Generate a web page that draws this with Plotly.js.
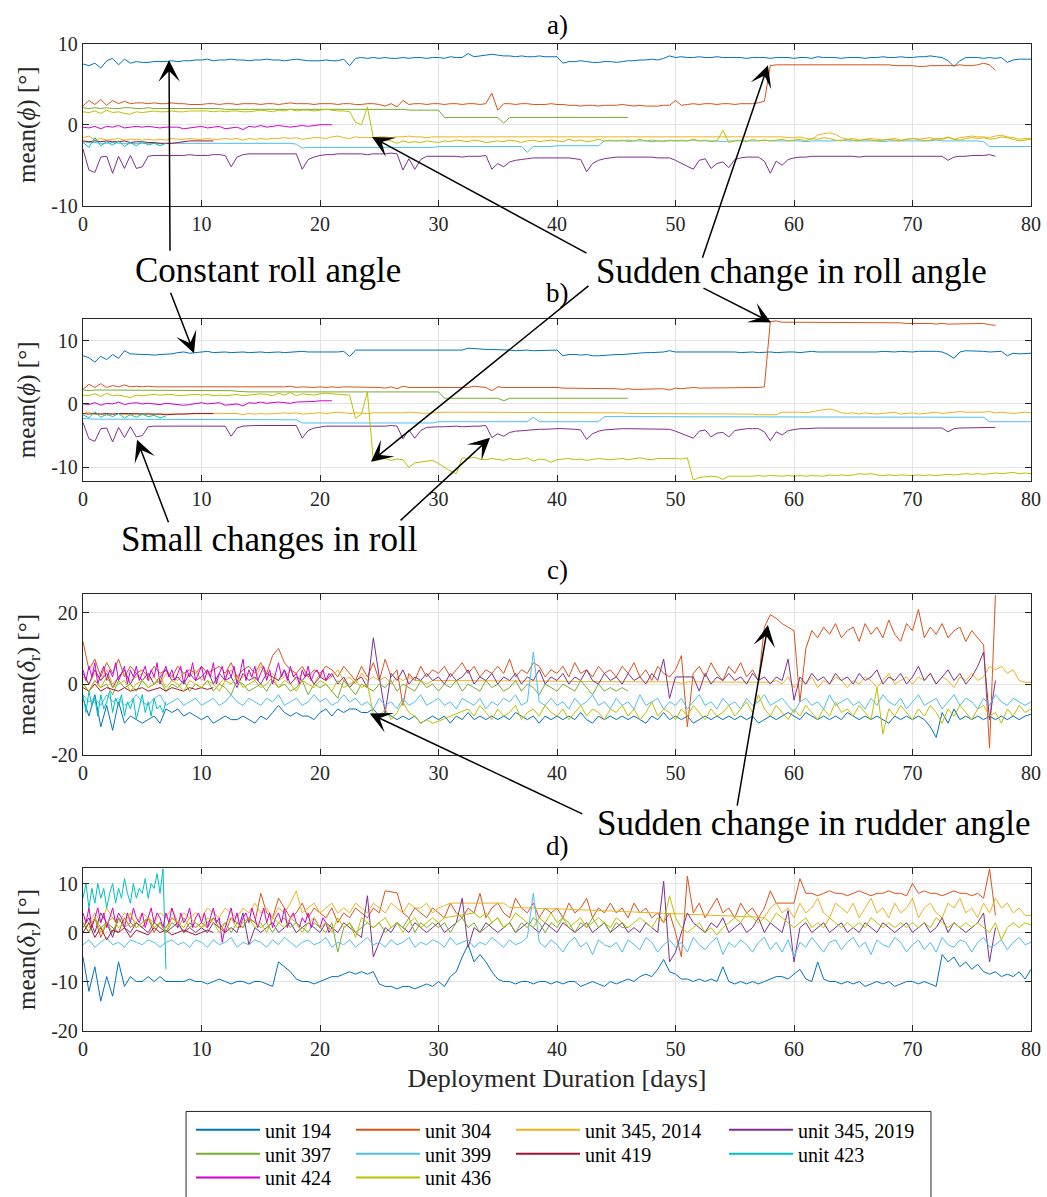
<!DOCTYPE html>
<html><head><meta charset="utf-8">
<script src="https://cdn.plot.ly/plotly-3.0.1.min.js"></script>
<style>html,body{margin:0;padding:0;background:#fff}#chart{width:1047px;height:1197px}</style>
</head><body><div id="chart"></div>
<script>
// ---- units, colours ----
const units = ['unit 194','unit 304','unit 345, 2014','unit 345, 2019','unit 397','unit 399','unit 419','unit 423','unit 424','unit 436'];
const colors = ['#0072BD','#D95319','#EDB120','#7E2F8E','#77AC30','#4DBEEE','#A2142F','#00BFBF','#D000D0','#BFBF00'];
const xTicks = [0,10,20,30,40,50,60,70,80];

// ---- panel a) mean(phi), samples every 0.5 day from day 0 ----
const a194 = [7.5,7.3,7.6,7.0,7.9,8.2,7.4,8.1,7.6,7.8, 7.7,7.7,7.8,7.8,7.8,7.9,7.8,7.9,7.9,8.0, 8.0,8.1,7.9,8.0,8.0,8.1,8.0,8.0,7.9,8.0, 8.0,8.1,8.0,8.0,7.9,8.0,8.1,8.0,7.9,7.9,
 7.9,8.0,7.9,7.9,8.1,7.3,8.2,8.3,8.2,8.3, 8.2,8.3,8.2,8.2,8.3,8.2,8.3,8.3,8.2,8.3, 8.3,8.2,8.4,8.3,8.3,8.8,8.4,8.5,8.6,8.7, 8.6,8.5,8.5,8.4,8.5,8.4,8.4,8.5,8.4,8.4,
 8.4,7.6,7.8,7.8,7.9,7.8,7.7,7.7,7.8,7.8, 7.7,7.8,7.9,7.9,8.0,8.0,8.1,8.0,8.2,8.5, 8.3,8.4,8.3,8.3,8.4,8.3,8.3,8.4,8.3,8.3, 8.3,8.3,8.2,8.3,8.3,8.3,8.2,8.3,8.3,8.3,
 8.2,8.3,8.3,8.2,8.4,8.3,8.3,8.3,8.2,8.3, 8.3,8.3,8.2,8.3,8.3,8.4,8.3,8.3,8.4,8.3, 8.3,8.4,8.4,8.5,8.4,8.3,7.9,7.2,7.9,8.3, 8.3,8.3,8.2,8.3,8.2,8.3,7.7,8.0,8.1,8.1, 8.1];
const a304 = [2.3,3.0,2.5,3.1,2.4,3.0,2.6,2.9,2.6,2.7, 2.7,2.6,2.7,2.6,2.6,2.7,2.6,2.6,2.5,2.5, 2.5,2.6,2.6,2.5,2.6,2.6,2.5,2.6,2.6,2.6, 2.5,2.6,2.6,2.5,2.6,2.7,2.6,2.6,2.6,2.5,
 2.6,2.6,2.6,2.5,2.6,2.6,2.5,2.5,2.6,2.6, 2.5,2.3,2.6,2.2,3.0,2.5,2.6,2.6,2.5,2.6, 2.6,2.5,2.6,2.6,2.5,2.6,2.6,2.5,2.6,3.9, 1.8,2.6,2.6,2.5,2.6,2.6,2.5,2.5,2.5,2.6,
 2.5,2.5,2.4,2.4,2.3,2.4,2.4,2.3,2.4,2.4, 2.4,2.5,2.4,2.3,2.4,2.3,2.3,2.3,2.4,2.4, 3.0,2.4,2.5,2.6,2.5,2.6,2.6,2.5,2.6,2.6, 2.5,2.6,2.6,2.6,2.7,2.9,7.3,7.4,7.4,7.4,
 7.4,7.4,7.4,7.4,7.4,7.4,7.4,7.4,7.4,7.4, 7.4,7.4,7.4,7.4,7.4,7.4,7.4,7.3,7.3,7.3, 7.3,7.2,7.2,7.3,7.3,7.3,7.3,7.3,7.4,7.3, 7.3,7.4,7.6,7.4,6.7];
const a345a = [-1.6,-1.4,-1.9,-1.7,-1.9,-1.8,-1.7,-1.9,-1.8,-1.8, -1.9,-1.8,-1.9,-1.8,-1.9,-1.7,-1.8,-1.8,-1.7,-1.8, -1.8,-1.7,-1.8,-1.8,-1.7,-1.8,-1.7,-1.9,-1.7,-1.8, -1.7,-1.8,-1.7,-1.7,-1.6,-1.7,-1.6,-1.8,-1.7,-1.6,
 -1.6,-1.7,-1.5,-1.4,-1.6,-1.7,-1.5,-1.6,-1.6,-1.6, -1.5,-1.5,-1.6,-1.5,-1.5,-1.4,-1.5,-1.5,-1.6,-1.5, -1.5,-1.5,-1.5,-1.5,-1.5,-1.5,-1.5,-1.5,-1.5,-1.5, -1.5,-1.5,-1.5,-1.5,-1.5,-1.5,-1.5,-1.5,-1.5,-1.5,
 -1.5,-1.5,-1.5,-1.5,-1.5,-1.5,-1.5,-1.5,-1.5,-1.5, -1.5,-1.5,-1.5,-1.5,-1.5,-1.5,-1.5,-1.5,-1.5,-1.5, -1.5,-1.5,-1.5,-1.5,-1.5,-1.5,-1.5,-1.5,-1.5,-1.5, -1.5,-1.5,-1.5,-1.5,-1.5,-1.5,-1.5,-1.5,-1.5,-1.6,
 -1.6,-1.5,-1.7,-1.8,-1.3,-1.1,-1.0,-1.2,-1.6,-1.8, -1.7,-1.9,-1.8,-1.7,-1.8,-1.9,-1.8,-1.7,-1.9,-1.8, -1.7,-1.8,-1.7,-1.6,-1.8,-1.7,-1.5,-1.8,-1.6,-1.5, -1.4,-1.5,-1.5,-1.6,-1.4,-1.3,-1.5,-1.6,-1.8,-1.7, -1.7];
const a345b = [-3.0,-5.6,-5.9,-4.0,-3.9,-6.0,-3.9,-5.4,-3.8,-5.4, -5.2,-3.9,-3.8,-3.8,-3.8,-3.8,-3.8,-3.8,-3.7,-3.8, -3.8,-3.8,-3.7,-3.7,-3.8,-5.2,-4.0,-3.7,-3.6,-3.6, -3.6,-3.6,-3.6,-3.6,-3.6,-3.6,-3.6,-5.5,-4.3,-4.0,
 -3.8,-3.7,-3.7,-3.6,-3.6,-3.6,-3.6,-3.6,-3.7,-3.6, -3.6,-3.6,-3.5,-3.6,-5.6,-4.2,-5.5,-4.3,-3.9,-3.9, -3.9,-3.9,-3.9,-3.9,-4.0,-3.9,-3.9,-3.9,-3.8,-5.5, -4.8,-5.2,-4.6,-4.4,-4.3,-4.2,-4.1,-4.1,-4.1,-4.1,
 -4.1,-4.1,-4.1,-4.2,-4.3,-5.8,-4.8,-4.4,-4.2,-4.1, -4.0,-4.0,-4.0,-4.0,-4.0,-4.0,-4.0,-4.1,-4.1,-4.1, -4.4,-4.8,-5.1,-5.5,-4.4,-4.2,-5.4,-4.8,-4.6,-5.3, -4.3,-4.1,-4.0,-4.0,-4.0,-4.5,-6.0,-4.5,-5.0,-4.3,
 -4.1,-4.0,-4.0,-3.9,-3.9,-3.9,-3.9,-3.9,-3.9,-3.9, -3.9,-4.0,-3.9,-3.9,-3.9,-3.9,-3.9,-3.9,-3.9,-3.9, -3.9,-3.9,-3.9,-3.9,-3.9,-3.9,-4.4,-4.0,-3.9,-3.9, -3.8,-3.8,-3.8,-3.7,-3.9];
const a397 = [2.1,2.0,2.1,2.0,2.1,2.0,2.0,2.1,2.1,2.0, 2.0,2.1,2.0,2.0,2.0,2.0,2.0,2.0,2.0,2.0, 2.0,2.0,2.0,2.0,1.9,1.9,1.9,1.9,1.9,1.9, 1.9,1.9,1.9,1.9,1.9,1.9,1.9,1.9,1.9,1.9,
 1.9,1.9,1.9,1.9,1.9,1.9,1.9,1.9,1.9,1.9, 1.9,1.9,1.9,1.9,1.9,1.8,1.8,1.8,1.8,1.8, 1.8,0.9,0.9,0.9,0.9,0.9,0.9,0.9,0.9,0.9, 0.9,0.2,0.9,0.9,0.9,0.9,0.9,0.9,0.9,0.9,
 0.9,0.9,0.9,0.9,0.9,0.9,0.9,0.9,0.9,0.9, 0.9,0.9,0.9];
const a399 = [-2.1,-2.2,-2.2,-2.3,-2.3,-2.2,-2.3,-2.3,-2.3,-2.3, -2.3,-2.3,-2.3,-2.3,-2.3,-2.3,-2.3,-2.3,-2.3,-2.3, -2.3,-2.3,-2.3,-2.3,-2.3,-2.3,-2.3,-2.3,-2.3,-2.3, -2.3,-2.3,-2.3,-2.3,-2.3,-2.3,-2.4,-2.9,-2.8,-2.8,
 -2.8,-2.8,-2.8,-2.8,-2.8,-2.8,-2.8,-2.8,-2.8,-2.8, -2.8,-2.8,-2.8,-2.8,-2.8,-2.8,-2.8,-2.8,-2.8,-2.8, -2.7,-2.7,-2.7,-2.7,-2.7,-2.7,-2.7,-2.7,-2.7,-2.7, -2.7,-2.7,-2.7,-2.7,-2.7,-3.4,-2.7,-2.7,-2.7,-2.7,
 -2.6,-2.6,-2.6,-2.6,-2.6,-2.6,-2.6,-2.6,-2.0,-2.0, -2.0,-2.0,-1.9,-2.0,-2.0,-2.0,-2.1,-2.0,-2.0,-2.0, -2.0,-2.0,-2.0,-1.9,-2.0,-2.0,-2.0,-2.0,-2.1,-2.0, -2.0,-2.0,-2.0,-2.0,-2.0,-1.9,-2.0,-2.0,-2.0,-2.0,
 -2.0,-2.0,-2.1,-2.0,-2.0,-2.0,-2.0,-2.0,-1.9,-2.0, -2.0,-2.0,-2.0,-2.0,-2.0,-2.1,-2.0,-2.0,-2.0,-2.0, -2.0,-2.0,-2.0,-2.0,-1.9,-2.0,-2.0,-2.0,-2.0,-2.0, -2.0,-2.0,-2.1,-2.7,-2.7,-2.7,-2.7,-2.7,-2.7,-2.7, -2.7];
const a419 = [-2.0,-2.1,-2.0,-2.1,-2.0,-2.1,-2.1,-2.0,-2.2,-2.1, -2.1,-2.2,-2.2,-2.3,-2.3,-2.3,-2.2,-2.1,-2.0,-2.0, -2.0,-2.0,-2.0];
const a423 = [-2.2,-2.8,-1.6,-2.6,-2.1,-2.5,-2.0,-2.7,-2.2,-2.6, -2.1,-2.5,-2.3,-2.6,-2.3];
const a424 = [-0.3,-0.4,-0.2,-0.5,-0.2,-0.3,-0.1,-0.4,-0.3,-0.2, -0.3,-0.2,-0.3,-0.4,-0.3,-0.3,-0.3,-0.5,-0.4,-0.3, -0.2,-0.4,-0.3,-0.2,-0.5,-0.4,-0.3,-0.6,-0.2,-0.3, -0.1,-0.3,-0.2,-0.1,-0.2,-0.3,-0.2,-0.1,-0.2,-0.1, 0.0,0.0,0.0];
const a436 = [1.6,1.5,1.7,1.4,1.8,1.5,1.6,1.4,1.3,1.6, 1.5,1.6,1.7,1.6,1.6,1.7,1.6,1.6,1.7,1.7, 1.7,1.7,1.6,1.7,1.6,1.7,1.7,1.6,1.6,1.7, 1.8,1.7,1.6,1.8,1.7,1.9,1.7,1.8,1.8,1.7,
 1.8,1.9,1.8,1.7,1.7,1.6,0.3,0.0,2.2,-1.6, -1.8,-1.9,-2.0,-2.3,-2.0,-2.2,-2.1,-2.2,-2.0,-2.1, -2.2,-2.0,-2.1,-1.9,-2.0,-2.1,-1.9,-2.0,-2.2,-2.1, -2.0,-2.1,-1.9,-2.0,-2.2,-2.0,-1.9,-2.1,-2.0,-1.9,
 -2.0,-2.1,-1.8,-2.0,-1.9,-2.1,-2.0,-1.8,-2.0,-1.9, -2.0,-1.9,-2.1,-2.0,-1.8,-2.0,-1.9,-2.0,-2.1,-1.9, -2.0,-1.9,-2.0,-1.8,-2.0,-1.9,-2.1,-2.0,-0.7,-2.2, -2.0,-1.9,-2.1,-1.8,-2.0,-1.9,-2.0,-1.9,-1.8,-2.0,
 -1.9,-1.8,-2.0,-1.7,-1.8,-1.6,-1.7,-1.9,-2.0,-1.8, -1.9,-2.0,-1.8,-1.9,-2.0,-1.9,-1.8,-1.9,-2.0,-1.8, -1.7,-1.8,-2.0,-1.9,-1.7,-1.8,-1.6,-1.8,-1.9,-1.7, -1.6,-1.7,-1.6,-1.8,-1.7,-1.5,-1.6,-1.8,-2.0,-1.9, -1.8];

// ---- panel b) mean(phi), samples every 0.5 day ----
const b194 = [7.6,7.3,6.6,7.5,7.0,7.8,7.2,8.4,7.9,7.8, 7.8,7.8,7.7,7.8,7.8,7.9,8.1,8.2,8.0,8.1, 8.1,8.3,8.1,8.2,8.2,8.1,8.2,8.2,8.1,8.2, 8.2,8.1,8.2,8.2,8.1,8.2,8.2,8.3,8.2,8.2,
 8.2,8.2,8.1,8.2,8.3,7.5,8.5,8.5,8.4,8.5, 8.4,8.5,8.4,8.5,8.4,8.5,8.4,8.5,8.5,8.4, 8.5,8.4,8.5,8.5,8.5,8.8,8.7,8.7,8.6,8.6, 8.6,8.5,8.5,8.4,8.5,8.5,8.4,8.4,8.5,8.5,
 8.5,7.6,7.8,7.8,7.7,7.8,7.6,7.6,7.7,7.8, 7.8,7.8,7.9,8.0,8.0,8.1,8.1,8.1,8.2,8.4, 8.2,8.2,8.2,8.3,8.2,8.2,8.2,8.3,8.2,8.2, 8.2,8.1,8.2,8.2,8.1,8.2,8.2,8.1,8.2,8.2,
 8.2,8.1,8.2,8.3,8.2,8.2,8.1,8.2,8.2,8.2, 8.2,8.2,8.1,8.2,8.2,8.3,8.2,8.2,8.3,8.2, 8.2,8.3,8.3,8.4,8.3,8.2,7.8,7.2,8.2,8.4, 8.4,8.3,8.3,8.2,8.3,8.3,7.6,8.0,7.9,8.0, 8.0];
const b304 = [2.3,3.1,2.6,3.2,2.6,2.9,2.7,3.0,2.7,2.8, 2.7,2.8,2.7,2.7,2.6,2.7,2.6,2.7,2.6,2.6, 2.7,2.6,2.7,2.6,2.7,2.7,2.6,2.7,2.6,2.7, 2.6,2.7,2.6,2.6,2.7,2.8,2.6,2.7,2.6,2.6,
 2.7,2.6,2.7,2.6,2.7,2.7,2.6,2.6,2.7,2.6, 2.6,2.5,2.7,2.4,2.8,2.6,2.6,2.7,2.6,2.6, 2.7,2.6,2.6,2.7,2.7,2.6,2.8,2.7,2.6,2.1, 2.7,2.6,2.6,2.7,2.6,2.6,2.7,2.6,2.6,2.6,
 2.6,2.5,2.5,2.4,2.4,2.5,2.4,2.4,2.5,2.4, 2.4,2.3,2.4,2.3,2.3,2.4,2.3,2.3,2.4,2.2, 2.5,2.4,2.5,2.6,2.5,2.5,2.6,2.6,2.5,2.6, 2.6,2.5,2.6,2.6,2.6,2.7,13.0,13.1,12.9,12.9,
 12.9,12.9,12.9,12.9,12.9,12.9,12.9,12.9,12.8,12.9, 12.9,12.8,12.8,12.9,12.8,12.8,12.8,12.8,12.8,12.7, 12.7,12.8,12.7,12.7,12.6,12.7,12.6,12.6,12.6,12.6, 12.6,12.7,12.7,12.5,12.4];
const b345a = [-1.5,-1.3,-1.7,-1.6,-1.8,-1.6,-1.6,-1.7,-1.7,-1.6, -1.7,-1.6,-1.7,-1.6,-1.6,-1.5,-1.6,-1.6,-1.5,-1.6, -1.6,-1.5,-1.6,-1.6,-1.5,-1.6,-1.5,-1.7,-1.5,-1.6, -1.5,-1.6,-1.5,-1.5,-1.4,-1.5,-1.4,-1.6,-1.5,-1.4,
 -1.4,-1.5,-1.4,-1.3,-1.4,-1.5,-1.4,-1.5,-1.5,-1.4, -1.4,-1.4,-1.5,-1.4,-1.4,-1.3,-1.4,-1.4,-1.5,-1.4, -1.3,-1.3,-1.3,-1.3,-1.3,-1.3,-1.3,-1.3,-1.3,-1.3, -1.3,-1.3,-1.3,-1.3,-1.3,-1.3,-1.3,-1.3,-1.3,-1.3,
 -1.3,-1.3,-1.4,-1.4,-1.4,-1.4,-1.4,-1.4,-1.4,-1.4, -1.4,-1.4,-1.5,-1.5,-1.5,-1.5,-1.5,-1.5,-1.5,-1.5, -1.5,-1.5,-1.5,-1.5,-1.6,-1.6,-1.6,-1.6,-1.6,-1.6, -1.6,-1.6,-1.6,-1.6,-1.7,-1.7,-1.7,-1.7,-1.3,-1.3,
 -1.2,-1.3,-1.4,-1.2,-1.1,-0.9,-0.8,-1.0,-1.4,-1.5, -1.4,-1.6,-1.4,-1.5,-1.6,-1.5,-1.4,-1.3,-1.6,-1.5, -1.4,-1.6,-1.5,-1.4,-1.3,-1.5,-1.4,-1.3,-1.2,-1.3, -1.3,-1.4,-1.3,-1.2,-1.4,-1.3,-1.4,-1.5,-1.4,-1.3, -1.4];
const b345b = [-2.9,-5.5,-5.9,-3.9,-3.8,-6.0,-3.7,-5.3,-3.6,-5.2, -5.0,-3.6,-3.5,-3.5,-3.5,-3.5,-3.5,-3.5,-3.4,-3.5, -3.5,-3.5,-3.4,-3.4,-3.5,-5.1,-3.8,-3.5,-3.4,-3.4, -3.4,-3.4,-3.4,-3.4,-3.4,-3.4,-3.4,-5.4,-4.2,-3.8,
 -3.6,-3.5,-3.5,-3.5,-3.5,-3.5,-3.5,-3.5,-3.6,-3.5, -3.5,-3.5,-3.4,-3.5,-5.5,-4.1,-5.4,-4.2,-3.7,-3.6, -3.6,-3.6,-3.5,-3.5,-3.6,-3.5,-3.5,-3.5,-3.4,-5.3, -4.7,-5.1,-4.5,-4.3,-4.2,-4.1,-4.0,-4.0,-4.0,-3.9,
 -3.9,-3.9,-3.9,-4.0,-4.1,-5.6,-4.7,-4.3,-4.1,-4.0, -3.9,-3.9,-3.9,-3.9,-3.9,-3.9,-3.9,-3.9,-4.0,-4.0, -4.3,-4.7,-5.0,-5.4,-4.3,-4.1,-5.2,-4.6,-4.5,-5.2, -4.2,-4.0,-3.9,-3.9,-3.9,-4.4,-5.8,-4.4,-4.9,-4.2,
 -4.0,-3.9,-3.9,-3.8,-3.8,-3.8,-3.8,-3.8,-3.8,-3.8, -3.8,-3.8,-3.9,-3.8,-3.8,-3.8,-3.8,-3.8,-3.8,-3.8, -3.8,-3.8,-3.8,-3.8,-3.8,-3.8,-4.4,-3.9,-3.8,-3.8, -3.8,-3.7,-3.7,-3.7,-3.7];
const b397 = [2.2,2.1,2.2,2.2,2.2,2.1,2.2,2.2,2.2,2.2, 2.2,2.2,2.2,2.2,2.2,2.2,2.2,2.2,2.2,2.2, 2.2,2.2,2.2,2.2,2.2,2.1,2.0,1.9,1.9,1.9, 1.9,1.9,1.9,1.9,1.9,1.9,1.9,1.9,1.9,1.9,
 1.9,1.9,1.9,1.9,1.9,1.9,1.9,1.9,1.9,1.9, 1.9,1.9,1.9,1.9,1.9,1.9,1.9,1.9,1.9,1.9, 1.9,0.9,0.9,0.9,0.9,0.9,0.9,0.9,0.9,0.9, 0.9,0.5,0.9,0.9,0.9,0.9,0.9,0.9,0.9,0.9,
 0.9,0.9,0.9,0.9,0.9,0.9,0.9,0.9,0.9,0.9, 0.9,0.9,0.9];
const b399 = [-2.3,-2.4,-2.4,-2.4,-2.4,-2.4,-2.4,-2.4,-2.4,-2.4, -2.4,-2.4,-2.4,-2.4,-2.4,-2.4,-2.4,-2.4,-2.4,-2.4, -2.4,-2.4,-2.4,-2.4,-2.4,-2.4,-2.4,-2.4,-2.4,-2.4, -2.4,-2.4,-2.4,-2.4,-2.4,-2.4,-2.5,-3.0,-3.0,-3.0,
 -3.0,-3.0,-3.0,-3.0,-3.0,-3.0,-3.0,-3.0,-3.0,-3.0, -3.0,-3.0,-3.0,-3.0,-3.0,-3.0,-3.0,-3.0,-3.0,-3.0, -2.8,-2.8,-2.8,-2.8,-2.8,-2.8,-2.8,-2.8,-2.8,-2.8, -2.8,-2.8,-2.8,-2.8,-2.8,-2.8,-2.1,-2.8,-2.8,-2.8,
 -2.8,-2.8,-2.8,-2.8,-2.8,-2.8,-2.8,-2.8,-2.0,-2.0, -2.0,-2.0,-2.0,-2.0,-2.0,-2.0,-2.0,-2.0,-2.0,-2.0, -2.0,-2.0,-2.0,-2.0,-2.0,-2.0,-2.0,-2.0,-2.0,-2.0, -2.0,-2.0,-2.0,-2.0,-2.0,-2.0,-2.0,-2.0,-2.0,-2.0,
 -2.0,-2.0,-2.0,-2.0,-2.0,-2.0,-2.0,-2.0,-2.0,-2.0, -2.0,-2.0,-2.0,-2.0,-2.0,-2.0,-2.0,-2.0,-2.0,-2.0, -2.0,-2.0,-2.0,-2.0,-2.0,-2.0,-2.0,-2.0,-2.0,-2.0, -2.0,-2.0,-2.1,-2.8,-2.8,-2.8,-2.8,-2.8,-2.8,-2.8, -2.8];
const b419 = [-1.5,-1.6,-1.5,-1.6,-1.5,-1.6,-1.5,-1.5,-1.6,-1.5, -1.5,-1.6,-1.6,-1.6,-1.7,-1.6,-1.6,-1.6,-1.5,-1.5, -1.5,-1.5,-1.5];
const b423 = [-1.7,-2.2,-1.2,-2.1,-1.6,-2.0,-1.5,-2.2,-1.7,-2.1, -1.6,-2.0,-1.8,-2.2,-1.9];
const b424 = [0.0,-0.1,0.2,-0.2,0.1,0.0,0.3,-0.1,0.1,0.2, 0.0,0.1,0.0,-0.1,0.1,0.0,0.0,-0.2,-0.1,0.0, 0.2,0.0,0.1,0.2,-0.2,-0.1,0.0,-0.3,0.2,0.1, 0.3,0.1,0.2,0.3,0.2,0.1,0.3,0.3,0.4,0.4, 0.5,0.5,0.5];
const b436 = [1.4,1.3,1.6,1.2,1.7,1.3,1.4,1.2,1.0,1.4, 1.3,1.4,1.5,1.4,1.4,1.5,1.3,1.4,1.4,1.5, 1.4,1.5,1.3,1.4,1.3,1.4,1.5,1.3,1.4,1.5, 1.6,1.5,1.3,1.7,1.4,1.8,1.3,1.6,1.5,1.4,
 1.6,1.7,1.6,1.5,1.5,1.4,-2.3,-1.6,1.9,-9.0, -8.8,-8.6,-8.9,-8.7,-8.8,-10.0,-9.3,-9.2,-9.0,-8.9, -9.4,-10.0,-10.6,-11.0,-8.5,-8.6,-8.4,-8.7,-8.8,-8.6, -8.7,-8.9,-8.6,-8.8,-8.7,-8.5,-9.0,-8.7,-8.8,-9.2,
 -8.8,-8.7,-8.6,-8.8,-8.7,-8.9,-8.8,-8.6,-8.7,-8.8, -8.7,-8.6,-8.8,-8.7,-8.5,-8.7,-8.8,-8.6,-8.6,-8.5, -8.6,-8.7,-8.5,-12.0,-11.6,-11.5,-11.4,-11.5,-11.9,-11.4, -11.4,-11.5,-11.4,-11.4,-11.3,-11.4,-11.3,-11.4,-11.4,-11.3,
 -11.4,-11.3,-11.4,-11.3,-11.3,-11.4,-11.2,-11.3,-11.2,-11.3, -11.2,-11.0,-11.1,-11.0,-11.2,-11.3,-11.2,-11.3,-11.2,-11.3, -11.3,-11.2,-11.3,-11.2,-11.3,-11.2,-11.1,-11.2,-11.1,-11.0, -11.1,-11.0,-11.1,-11.0,-10.9,-11.0,-10.9,-10.8,-11.0,-10.9, -11.0];

// ---- panel c) mean(delta_r), every 0.5 day (units 423, 424 every 0.25 day) ----
const c194 = [-4,-9,-3,-12,-6,-13,-5,-11,-9,-10, -11,-10,-9,-11,-7,-8,-7,-9,-8,-9, -10,-9,-11,-10,-9,-10,-10,-9,-10,-11, -9,-10,-8,-6,-8,-9,-8,-9,-9,-10,
 -8,-7,-9,-7,-8,-7,-7,-8,-8,-7, -9,-8,-9,-10,-9,-10,-9,-11,-10,-9, -10,-9,-11,-9,-10,-8,-10,-9,-10,-9, -10,-9,-10,-8,-9,-10,-9,-11,-9,-10,
 -9,-10,-9,-10,-8,-10,-11,-9,-10,-9, -10,-9,-10,-9,-10,-11,-9,-10,-8,-10, -9,-10,-9,-11,-10,-9,-10,-9,-10,-9, -10,-9,-10,-9,-11,-10,-9,-10,-9,-8,
 -9,-10,-8,-9,-10,-9,-10,-9,-10,-8, -9,-10,-9,-10,-9,-10,-11,-9,-10,-9, -10,-9,-10,-12,-15,-8,-11,-7,-10,-9, -10,-9,-10,-9,-10,-9,-10,-9,-10,-9, -8.5];
const c304 = [12,4,7,2,6,3,7,2,5,3, 4,2,5,3,4,2,5,3,4,3, 5,3,4,5,3,6,2,4,5,3, 6,3,8,10,6,4,3,5,2,4,
 3,5,4,2,5,3,1,5,2,6, 1,7,2,4,-6,3,1,5,2,4, 3,5,2,4,6,3,5,2,4,3, 5,3,7,2,4,3,6,5,2,4,
 3,5,2,6,3,4,2,5,3,4, 2,5,3,6,2,4,1,5,3,2, 4,8,-12,3,5,2,6,3,1,5, 3,6,2,4,1,16,19.5,18.5,17,16,
 15,-5,10,15,13,16,14,17,13,15, 16,12,17,14,16,13,18,14,12,17, 15,21,13,16,14,17,13,15,16,12, 15,13,11,-18,25];
const c345a = [2,0,3,1,4,0,2,3,1,2, 3,1,2,0,3,2,1,3,2,4, 1,3,2,0,2,4,1,2,3,1, 5,2,3,1,2,4,1,3,2,0,
 3,1,2,4,1,2,0,3,1,2, 1,2,0,2,1,2,1,1,0,1, 1,1,0.9,0.9,0.9,0.9,0.9,0.8,0.8,0.8, 0.8,0.8,0.8,0.8,0.8,0.8,0.8,0.8,0.8,0.8,
 0.8,0.8,0.7,0.7,0.7,0.7,0.7,0.7,0.7,0.7, 0.7,0.7,0.7,0.7,0.7,0.7,0.7,0.7,0.7,0.7, 0.6,0.2,0.6,0.6,0.6,0.6,0.6,0.6,0.6,0.6, 0.5,0.5,0.5,0.5,0.5,0.5,0.5,1,0,2,
 -1,1,0,2,-1,1,0,2,1,-1, 1,0,2,1,-1,1,3,0,1,2, 0,2,1,3,0,2,1,-1,2,1, 3,1,2,5,4,5,3,4,1,0.5, 0.5];
const c345b = [3,0,4,1,3,-1,2,4,0,3, 1,3,0,2,4,1,2,0,3,1, 2,4,0,3,1,2,-1,3,1,2, 0,3,2,1,4,0,2,1,3,0,
 2,1,3,0,2,-1,1,2,-1,13, 2,-8,3,1,4,0,2,1,3,1, 2,0,3,1,2,4,0,2,1,3, 0,2,1,3,0,2,1,4,0,2,
 1,3,0,2,1,4,1,0,3,1, 2,0,3,1,2,0,3,1,7,-4, 2,2,2,2,-2,3,0,2,1,3, 1,2,0,3,1,2,0,2,1,7,
 -4.5,2,0,3,1,2,0,3,1,2, 0,3,1,2,4,0,2,1,3,0, 2,5,1,3,0,2,4,1,3,0, 2,5,9,-10,1];
const c397 = [0,-2,1,-1,0,-3,1,-1,0,-2, 1,-1,0,1,-2,0,-1,1,-2,0, -1,1,-2,0,-1,-3,1,0,-2,-1, 0,-2,1,-1,0,-2,-1,1,-3,0,
 -1,0,-2,-4,1,-1,-3,0,-1,-2, 0,-1,1,-2,0,-1,-2,1,-1,0, -2,0,-1,1,-2,0,-1,-2,1,-1, 0,-2,-1,1,-2,0,-1,-3,0,-1,
 -2,0,-1,-2,1,-1,-3,0,-2,-1, -2,-1,-2];
const c399 = [-3,-5,-4,-6,-3,-5,-4,-6,-5,-3, -5,-6,-4,-3,-6,-5,-4,-6,-5,-4, -6,-5,-4,-6,-5,-3,-5,-6,-4,-5, -6,-4,-5,-3,-6,-5,-4,-6,-5,-3,
 -5,-4,-6,-5,-3,-5,-4,-6,-5,-7, -4,-6,-5,-7,-4,-6,-5,-3,-6,-5, -4,-6,-5,-7,-4,-5,-6,-4,-7,-5, -6,-4,-5,-3,-6,-5,9,-5,-6,-4,
 -6,-5,-7,-4,-6,-5,-3,-6,-5,-7, -4,-6,-5,-7,-3,-6,-5,-4,-7,-5, -6,-4,-7,-5,-3,-6,-5,-7,-4,-6, -5,-7,-4,-6,-5,-3,-6,-5,-4,-6,
 -8,-5,-4,-6,-5,-7,-3,-6,-5,-4, -6,-5,-7,-4,-6,-3,-5,-6,-4,-7, -5,-3,-6,-5,-4,-7,-5,-3,-6,-4, -5,-7,-4,-6,-3,-5,-6,-4,-5,-6, -5];
const c419 = [-1,-2,0,-2,-1,-1.5,-2,-1,-2,-1.5, -1,-2,-1.5,-1,-2,-1,-1.5,-2,-1,-1.5, -1,-1.5,-1];
const c423 = [-3,-8,-2,-6,-4,-9,-3,-7,-5,-2,-8,-4,-6,-3,-9,-5,-7,-4,-10,-6, -3,-8,-5,-9,-4,-7,-6,-8,-5];
const c424 = [4,1,5,2,6,0,3,5,1,4,2,6,1,3,5,0,4,2,5,1, 3,5,1,4,2,6,0,3,5,2,4,1,3,5,0,4,2,6,1,3,
 5,1,4,2,6,0,3,5,1,4,2,5,0,3,7,1,4,2,5,1, 3,5,1,4,0,3,6,2,4,1,5,2,3,0,4,2,5,1,3,4, 2,4,1,3,2];
const c436 = [0,-2,1,-1,2,-1,0,1,-2,0, 1,-1,0,2,-1,1,0,-2,1,0, -1,1,0,-2,1,0,2,-1,0,1, -1,0,2,-1,1,0,-2,1,0,-1,
 1,0,-2,1,-1,0,1,-1,0,-8.5, -9,-7,-10,-8,-5,-8,-9,-11,-10,-11, -10.5,-9.7,-9,-8.2,-7.5,-7,-9,-6,-8,-10, -7,-9,-8,-6,-10,-8,-7,-9,-6,-8,
 -9,-7,-10,-8,-6,-9,-7,-8,-10,-7, -8,-6,-9,-7,-10,-8,-5,-9,-7,-8, -10,-7,-9,-6,-8,-10,-7,-9,-8,-6, -9,-7,-5,-8,-3,-7,-9,-6,-8,-10,
 -7,-9,-6,-8,-10,-7,-9,-5,-8,-7, -9,-6,-8,-10,-1,-14,-7,-9,-6,-8, -10,-7,-9,-6,-8,-11,-7,-9,-6,-8, -10,-7,-6,-9,-8,-11,-7,-9,-6,-8, -7];

// ---- panel d) mean(delta_r), every 0.5 day (units 423, 424 every 0.25 day) ----
const d194 = [-5,-12,-7,-14,-9,-13,-6,-11,-9,-10, -10,-9,-10,-9,-10,-10,-10,-10,-9.5,-10, -10,-10.5,-10,-9.5,-10,-10.5,-10,-10,-10.5,-10, -10,-10.5,-11,-6,-7,-8,-9.5,-10,-10,-10.5,
 -10,-9.5,-9,-9,-8.5,-8,-8.5,-8,-8.5,-8, -10.5,-11,-11,-11.5,-11,-11,-11.5,-11,-10.5,-11, -10,-11,-9,-8,-5,-2.5,-6,-4.5,-6,-8, -9.5,-10,-10,-10.5,-10,-10,-10.5,-10,-10,-10.5,
 -10,-10.5,-10,-10,-11,-10.5,-10,-10.5,-11,-10, -10.5,-10,-9.5,-10,-9,-8.5,-9,-7.5,-5.5,-8, -8.5,-9.5,-9.5,-10,-9.5,-10,-9.5,-10,-7,-10, -10.5,-10,-10.5,-10,-10.5,-10,-9.5,-9,-9,-9.5,
 -8.5,-7.5,-9.5,-10,-6,-9.5,-10,-10,-10.5,-10, -10.5,-10,-11,-10.5,-10,-10.5,-10,-11,-10.5,-10, -10,-10.5,-10,-10.5,-11,-4.5,-6,-5,-7,-6, -7.5,-6.5,-8,-8.5,-8,-9,-8.5,-9,-8,-9.5, -7.5];
const d304 = [2,0,3,-1,2,1,0,3,1,2, 1,3,0,2,1,3,2,0,2,1, 2,1,3,2,0,3,2,1,3,2, 8,4,3,7,5,3,4,6,3,5,
 4,3,5,2,4,3,5,4,3,5, 4,8.5,8.3,8.1,4,3,5,4,3,5, 4,3,6,4,3,5,4,8,3,5, 6,4,3,7,5,4,6,3,5,4,
 5,3,6,4,5,7,3,5,4,6, 4,5,3,6,4,5,3,4,2,4, 0,-5,11.5,4,6,3,5,7,4,5, 3,6,4,5,3,5,8.5,6,6,6,
 6,11,8,8,7.5,8,8.5,8,8,7.5, 8,8.5,8,7.5,8,8,8.5,8,8,7.5, 10,8,8.5,8,8,7.5,8,8.5,8,8, 7.5,8,7,13,3.5];
const d345a = [3,2,4,2,5,3,2,4,3,2, 4,3,2,4,3,5,2,4,3,4, 3,5,4,3,5,4,3,5,4,6, 4,5,3,5,4,6,8.5,4,5,6,
 4,5,6,4,5,4,6,5,4,6, 5,4,6,5,4,6,5,5,6,4, 5,5.5,6,6,6,6,6,6,6,6, 6,6,5.1,5.1,5.0,5.0,5.0,4.9,4.9,4.9,
 4.8,4.8,4.7,4.7,4.6,4.6,4.5,4.5,4.4,4.4, 4.3,4.3,4.2,4.2,4.1,4.1,4.0,4.0,3.9,3.9, 3.8,3.8,3.7,3.7,3.6,3.6,3.5,3.5,3.4,3.4, 3.3,3.3,3.2,3.2,3.1,3.1,5.0,6.0,4.0,5.0,
 3,6,4,5,7,4,3,6,5,4, 6,3,5,7,4,5,3,6,4,5, 7,3,5,6,4,3,6,5,7,4, 5,3,6,4,7,5,6,4,5,3.5, 3.5];
const d345b = [1,3,0,4,2,-1,3,1,0,2, 1,0,2,1,0,1,2,0,1,0, 1,0,2,1,0,1,0,4,-2.5,1, 0,1,2,0,1,2,0,1,2,1,
 0,2,1,0,2,1,0,-1,7.5,-5, -2,1,0,2,1,0,2,1,0,1, 2,0,1,2,7,-3,1,0,2,1, 0,1,2,0,1,2,1,0,2,1,
 0,2,1,0,1,2,0,1,2,0, 1,2,0,1,0,2,1,0,10.5,-6, -4,0,4,2,1,0,2,1,3,0, 1,2,0,1,3,0,2,1,0,4.5,
 -6,1,2,0,1,2,0,1,2,0, 1,0,2,1,0,2,1,0,1,2, 0,1,2,0,1,3,0,2,1,0, 1,2,4,-6,1];
const d397 = [2,0,3,1,2,0,3,1,2,1, 2,3,1,2,0,2,1,3,1,2, 1,2,3,1,2,0,2,1,3,2, 1,2,0,2,3,1,2,1,0,2,
 1,0,2,-4,1,2,0,1,2,1, 2,0,1,2,1,3,0,2,1,2, 1,2,0,2,3,1,2,0,1,2, 3,1,2,0,2,1,3,2,0,2,
 1,3,2,0,2,1,3,1,2,0, 2,1,1];
const d399 = [-2.5,-1.5,-3,-2,-1,-2.5,-2,-3,-1.5,-2, -2.5,-1.5,-2,-3,-2,-1.5,-2.5,-2,-3,-1.5, -2,-3,-1.5,-2.5,-2,-1,-3,-2,-2.5,-1.5, -2,-3,-1.5,-2.5,-1,-2,-3,-2,-1.5,-2.5,
 -2,-1,-3,-2,-2.5,-1.5,-3,-2,-1,-2.5, -2,-3,-1.5,-2.5,-2,-1,-3,-2,-2.5,-1.5, -2,-3,-1,-2.5,-2,-1.5,-3,-2,-2.5,-1, -2,-3,-1.5,-2.5,-2,-1,8,-2,-3,-1.5,
 -2.5,-4,-2,-1,-3,-2,-4.5,-1.5,-2.5,-3, -2,-4,-1.5,-2.5,-3.5,-1,-2,-4,-2.5,-1.5, -3,-2,-4,-1,-2.5,-3.5,-2,-1,-4.5,-2, -3,-1.5,-2.5,-4,-2,-1,-3.5,-2,-4,-1.5,
 -5,-2,-3,-1,-2.5,-4,-2,-1.5,-3.5,-2, -1,-3,-2,-4.5,-1.5,-2.5,-3,-1,-2,-4, -2.5,-1.5,-3.5,-2,-4,-1,-2.5,-3,-1.5,-2, -4,-2,-1,-3,-2.5,-1.5,-3.5,-2,-1,-2.5, -2];
const d419 = [0,2,-1,1,-1.5,0.5,0,1,-1,0.5, 0,-0.5,1,0,0.5,-0.5,0,0.5,0,-0.5, 0,0.5,0];
const d423 = [7,10,5,9,6,10,7,9,5,8,10,6,9,7,11,8,6,10,7,9, 8,11,7,10,9,12,8,13,-7.5];
const d424 = [4,2,5,1,3,5,2,4,1,3,5,2,4,3,1,4,2,5,3,2, 4,1,3,5,2,4,3,1,4,2,5,3,1,4,2,3,5,1,3,4,
 2,4,1,3,5,2,3,-2,1,3,5,2,4,1,3,4,2,5,3,1, 3,5,2,4,1,3,4,2,5,1,3,4,2,1,3,2,4,1,3,2, 1,3,2,0,1];
const d436 = [2,1,3,0,2,3,1,2,4,1, 2,3,1,2,0,3,2,1,3,2, 1,3,2,0,2,3,1,2,3,1, 2,0,3,2,1,3,2,0,2,3,
 1,2,0,3,1,2,-1,3,2,1, 2,3,1,2,0,2,3,1,2,3, 2,3,3.2,3.4,3.6,3.8,4,3,4,2, 3,1,2,4,3,2,1,3,2,4,
 2,3,1,2,3,1,2,3,2,1, 3,2,1,2,3,2,1,3,2,7.5, 3,1,0,1,2,0,1,-0.5,1,2, 3,2,4,3,2,3,2,4,3,2,
 1,2,3,1,2,1,3,2,1,2, 1,2,1,3,2,1,2,1,2,1, 2,1,2,1,3,2,1,2,1,2, 1,2,1,0,2,-1.5,1,2,1,2, 1.5];

const panelA = [a194,a304,a345a,a345b,a397,a399,a419,a423,a424,a436];
const panelB = [b194,b304,b345a,b345b,b397,b399,b419,b423,b424,b436];
const panelC = [c194,c304,c345a,c345b,c397,c399,c419,c423,c424,c436];
const panelD = [d194,d304,d345a,d345b,d397,d399,d419,d423,d424,d436];
const rollStep = [0.5,0.5,0.5,0.5,0.5,0.5,0.5,0.5,0.5,0.5];
const rudderStep = [0.5,0.5,0.5,0.5,0.5,0.5,0.5,0.25,0.25,0.5];

const traces = [];
function addPanel(series, steps, xa, ya) {
  series.forEach((y, i) => traces.push({
    type: 'scatter', mode: 'lines', x0: 0, dx: steps[i], y: y,
    xaxis: xa, yaxis: ya, name: units[i], showlegend: false,
    line: {color: colors[i], width: 1}, hoverinfo: 'skip'
  }));
}
addPanel(panelA, rollStep, 'x', 'y');
addPanel(panelB, rollStep, 'x2', 'y2');
addPanel(panelC, rudderStep, 'x3', 'y3');
addPanel(panelD, rudderStep, 'x4', 'y4');

// legend: one legend box per entry, laid out as the 4-column MATLAB legend
const legendKeys = units.map((u, i) => i === 0 ? 'legend' : 'legend' + (i + 1));
const legCol = [0.1139, 0.2827, 0.4515, 0.6762];
const legRow = [0.0677, 0.0476, 0.0274];
units.forEach((u, i) => traces.push({
  type: 'scatter', mode: 'lines', x: [null], y: [null], xaxis: 'x', yaxis: 'y',
  name: u, legend: legendKeys[i], showlegend: true, line: {color: colors[i], width: 2}, hoverinfo: 'skip'
}));

const FONT = 'Liberation Serif, DejaVu Serif, serif';
const INK = '#262626';
function xax(anchor, title) {
  const o = {domain: [0, 1], range: [0, 80], anchor: anchor, tickvals: xTicks, ticktext: xTicks.map(String),
    showline: true, mirror: 'ticks', linecolor: INK, linewidth: 1.2, ticks: 'inside', ticklen: 6, tickcolor: INK,
    showgrid: true, gridcolor: '#e3e3e3', gridwidth: 1, zeroline: false, tickfont: {family: FONT, size: 20, color: INK}};
  if (title) o.title = {text: title, font: {family: FONT, size: 26, color: INK}, standoff: 10};
  return o;
}
function yax(anchor, dom, rng, ticks, title) {
  return {domain: dom, range: rng, anchor: anchor, tickvals: ticks, ticktext: ticks.map(String),
    showline: true, mirror: 'ticks', linecolor: INK, linewidth: 1.2, ticks: 'inside', ticklen: 6, tickcolor: INK,
    showgrid: true, gridcolor: '#e3e3e3', gridwidth: 1, zeroline: false, tickfont: {family: FONT, size: 20, color: INK},
    title: {text: title, font: {family: FONT, size: 25, color: INK}, standoff: 8}};
}
const rollTitle = 'mean(<i>ϕ</i>) [°]';
const rudTitle = 'mean(<i>δ</i><sub>r</sub>) [°]';

// ---- annotations: panel titles, notes and arrows ----
const panelLabels = ['a)', 'b)', 'c)', 'd)'];
const panelLabelY = [0.9791, 0.7536, 0.5213, 0.2899];
const notes = ['Constant roll angle', 'Sudden change in roll angle', 'Small changes in roll', 'Sudden change in rudder angle'];
const noteX = [0.1951, 0.7474, 0.1972, 0.7706];
const noteY = [0.7728, 0.7719, 0.5472, 0.3083];
// arrow heads in data coordinates of the panel they point into, tails as pixel offsets
const arrows = [
  {xr: 'x', yr: 'y', x: 7.26, y: 7.96, ax: 1, ay: 192},
  {xr: 'x2', yr: 'y2', x: 9.37, y: 8.0, ax: -24, ay: -62},
  {xr: 'x', yr: 'y', x: 24.39, y: -1.51, ax: 216, ay: 117},
  {xr: 'x', yr: 'y', x: 57.8, y: 7.34, ax: -66, ay: 194},
  {xr: 'x2', yr: 'y2', x: 58.06, y: 12.87, ax: -69, ay: -35},
  {xr: 'x2', yr: 'y2', x: 24.3, y: -9.1, ax: 219, ay: -177},
  {xr: 'x2', yr: 'y2', x: 4.56, y: -5.65, ax: 32, ay: 84},
  {xr: 'x2', yr: 'y2', x: 34.35, y: -5.34, ax: -91, ay: 84},
  {xr: 'x3', yr: 'y3', x: 24.2, y: -8.3, ax: 214, ay: 101},
  {xr: 'x3', yr: 'y3', x: 57.8, y: 16.6, ax: -31, ay: 182}
];
const annotations = [];
panelLabels.forEach((t, i) => annotations.push({text: t, xref: 'paper', yref: 'paper', x: 0.5, y: panelLabelY[i],
  xanchor: 'center', yanchor: 'middle', showarrow: false, font: {family: FONT, size: 27, color: '#000'}}));
notes.forEach((t, i) => annotations.push({text: t, xref: 'paper', yref: 'paper', x: noteX[i], y: noteY[i],
  xanchor: 'center', yanchor: 'middle', showarrow: false, font: {family: FONT, size: 35, color: '#000'}}));
arrows.forEach(a => annotations.push({text: '', xref: a.xr, yref: a.yr, x: a.x, y: a.y, ax: a.ax, ay: a.ay,
  showarrow: true, arrowhead: 3, arrowsize: 2.4, arrowwidth: 1.5, arrowcolor: '#000', standoff: 0}));

const layout = {
  width: 1047, height: 1197, paper_bgcolor: '#fff', plot_bgcolor: '#fff',
  margin: {l: 83, r: 16, t: 0, b: 0}, showlegend: true,
  xaxis: xax('y'), xaxis2: xax('y2'), xaxis3: xax('y3'), xaxis4: xax('y4', 'Deployment Duration [days]'),
  yaxis: yax('x', [0.82732, 0.96324], [-10, 10], [-10, 0, 10], rollTitle),
  yaxis2: yax('x2', [0.59649, 0.73208], [-12.09, 13.39], [-10, 0, 10], rollTitle),
  yaxis3: yax('x3', [0.36591, 0.50150], [-20, 25.4], [-20, 0, 20], rudTitle),
  yaxis4: yax('x4', [0.13475, 0.27093], [-20, 13.1], [-20, -10, 0, 10], rudTitle),
  shapes: [{type: 'rect', xref: 'paper', yref: 'paper', x0: 0.1087, x1: 0.8945, y0: -0.02, y1: 0.0668,
    line: {color: INK, width: 1}, fillcolor: 'rgba(0,0,0,0)'}],
  annotations: annotations
};
legendKeys.forEach((k, i) => {
  layout[k] = {orientation: 'v', xanchor: 'left', yanchor: 'top', x: legCol[i % 4], y: legRow[Math.floor(i / 4)],
    bgcolor: 'rgba(0,0,0,0)', borderwidth: 0, itemwidth: 64, font: {family: FONT, size: 20, color: '#000'}};
});
Plotly.newPlot('chart', traces, layout, {staticPlot: true, displayModeBar: false});
</script></body></html>
